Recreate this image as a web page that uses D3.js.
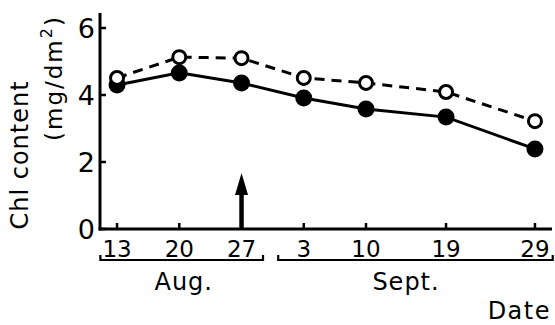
<!DOCTYPE html>
<html>
<head>
<meta charset="utf-8">
<script src="https://cdn.jsdelivr.net/npm/d3@7"></script>
<style>
  html, body { margin: 0; padding: 0; background: #fff; }
  svg { display: block; }
  text { font-family: "DejaVu Sans", "Liberation Sans", sans-serif; fill: #000; }
</style>
</head>
<body>
<svg id="chart" width="555" height="325"></svg>
<script>
// Sampling dates (UTC) and their day-of-month tick labels
const dates = ["1985-08-13", "1985-08-20", "1985-08-27", "1985-09-03", "1985-09-10", "1985-09-19", "1985-09-29"];
const tickLabels = ["13", "20", "27", "3", "10", "19", "29"];
// Chl content (mg/dm²)
const openSeries = [4.51, 5.13, 5.10, 4.51, 4.36, 4.09, 3.22];
const filledSeries = [4.30, 4.66, 4.36, 3.91, 3.58, 3.34, 2.39];
const yTicks = [0, 2, 4, 6];
const arrowDate = "1985-08-27";
const months = [
  { name: "Aug.", from: "1985-08-11T03:00Z", to: "1985-08-29T10:00Z", labelAt: "1985-08-20T12:00Z" },
  { name: "Sept.", from: "1985-08-31T03:00Z", to: "1985-10-01T00:00Z", labelAt: "1985-09-14T12:00Z" }
];

const svg = d3.select("#chart");
const parse = s => new Date(s.length === 10 ? s + "T00:00Z" : s);

const x = d3.scaleUtc()
  .domain([parse("1985-08-11T02:00Z"), parse("1985-09-30T22:00Z")])
  .range([100, 552]);
const y = d3.scaleLinear().domain([0, 6]).range([229, 28]);

const pts = (vals) => dates.map((d, i) => ({ date: parse(d), v: vals[i] }));

// Axes
const axisG = svg.append("g");
axisG.append("line")
  .attr("x1", x.range()[0]).attr("x2", x.range()[0])
  .attr("y1", y(6.45)).attr("y2", y(0) + 1.5)
  .attr("stroke", "#000").attr("stroke-width", 3);
axisG.append("line")
  .attr("x1", x.range()[0] - 1.5).attr("x2", x.range()[1])
  .attr("y1", y(0)).attr("y2", y(0))
  .attr("stroke", "#000").attr("stroke-width", 3);

// y ticks (inside) and labels
axisG.selectAll(".yt").data(yTicks).join("line")
  .attr("x1", 100).attr("x2", 106)
  .attr("y1", d => y(d)).attr("y2", d => y(d))
  .attr("stroke", "#000").attr("stroke-width", 2.5);
axisG.selectAll(".yl").data(yTicks).join("text")
  .attr("x", 95).attr("y", d => y(d) + 10)
  .attr("text-anchor", "end")
  .attr("font-size", 27)
  .text(d => d);

// x ticks (inside) and labels
axisG.selectAll(".xt").data(dates).join("line")
  .attr("x1", d => x(parse(d))).attr("x2", d => x(parse(d)))
  .attr("y1", y(0)).attr("y2", y(0) - 6)
  .attr("stroke", "#000").attr("stroke-width", 2.5);
axisG.selectAll(".xl").data(dates).join("text")
  .attr("x", d => x(parse(d))).attr("y", 257)
  .attr("text-anchor", "middle")
  .attr("font-size", 23)
  .text((d, i) => tickLabels[i]);

// Month brackets
const br = svg.append("g");
months.forEach(m => {
  const x0 = x(parse(m.from)), x1 = x(parse(m.to));
  br.append("path")
    .attr("d", `M${x0},255 V260 H${x1} V255`)
    .attr("fill", "none").attr("stroke", "#000").attr("stroke-width", 2.2);
  br.append("text")
    .attr("x", x(parse(m.labelAt))).attr("y", 290)
    .attr("text-anchor", "middle")
    .attr("font-size", 24)
    .attr("letter-spacing", 1)
    .text(m.name);
});

// Axis titles
svg.append("text")
  .attr("x", 551).attr("y", 319)
  .attr("text-anchor", "end")
  .attr("font-size", 24)
  .attr("letter-spacing", 1.5)
  .text("Date");

svg.append("text")
  .attr("transform", "translate(28,155) rotate(-90)")
  .attr("text-anchor", "middle")
  .attr("font-size", 24)
  .attr("letter-spacing", 1)
  .text("Chl content");

const unit = svg.append("text")
  .attr("transform", "translate(62,78) rotate(-90)")
  .attr("text-anchor", "middle")
  .attr("font-size", 23)
  .attr("letter-spacing", 2);
unit.append("tspan").text("(mg/dm");
unit.append("tspan").attr("dy", -10).attr("font-size", 16).text("2");
unit.append("tspan").attr("dy", 10).text(")");

// Arrow marking Aug 27
const ax = x(parse(arrowDate));
svg.append("line")
  .attr("x1", ax).attr("x2", ax)
  .attr("y1", 190).attr("y2", y(0))
  .attr("stroke", "#000").attr("stroke-width", 4.5);
svg.append("path")
  .attr("d", `M${ax},173 L${ax - 6.5},195 L${ax + 6.5},195 Z`)
  .attr("fill", "#000");

// Lines
const line = d3.line().x(d => x(d.date)).y(d => y(d.v));
svg.append("path")
  .datum(pts(openSeries))
  .attr("d", line)
  .attr("fill", "none").attr("stroke", "#000").attr("stroke-width", 3)
  .attr("stroke-dasharray", "10,7");
svg.append("path")
  .datum(pts(filledSeries))
  .attr("d", line)
  .attr("fill", "none").attr("stroke", "#000").attr("stroke-width", 3);

// Markers
svg.append("g").selectAll("circle").data(pts(filledSeries)).join("circle")
  .attr("cx", d => x(d.date)).attr("cy", d => y(d.v))
  .attr("r", 8.5).attr("fill", "#000");
svg.append("g").selectAll("circle").data(pts(openSeries)).join("circle")
  .attr("cx", d => x(d.date)).attr("cy", d => y(d.v))
  .attr("r", 6.5).attr("fill", "#fff").attr("stroke", "#000").attr("stroke-width", 3);
</script>
</body>
</html>
